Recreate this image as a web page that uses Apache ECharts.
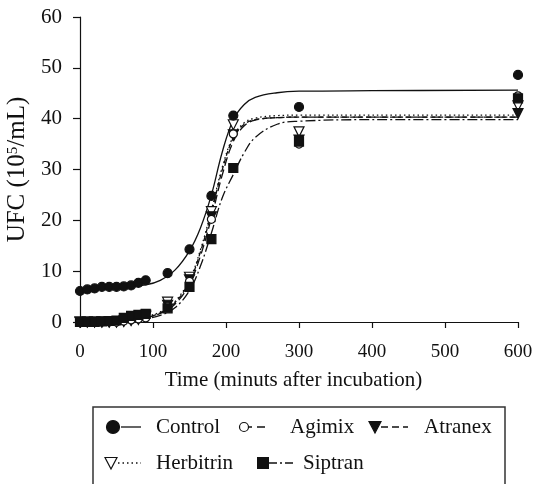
<!DOCTYPE html>
<html><head><meta charset="utf-8">
<script src="https://cdn.jsdelivr.net/npm/echarts@6/dist/echarts.min.js"></script>
<style>html,body{margin:0;padding:0;background:#fff}#c{width:533px;height:484px}</style>
</head><body><div id="c"></div>
<script>
// observed time points (minutes)
const obsTimes = [0,10,20,30,40,50,60,70,80,90,120,150,180,210,300,600];
const control   = [6.1,6.4,6.6,6.9,6.9,6.9,7.0,7.2,7.7,8.2,9.6,14.3,24.8,40.6,42.3,48.6];
const agimix    = [0,0,0,0,0,0,0.2,0.4,0.6,0.8,3.0,8.0,20.2,37.0,35.0,44.5];
const atranex   = [0,0,0,0,0,0,0.1,0.3,0.5,1.0,3.3,8.3,20.7,36.8,35.8,41.0];
const herbitrin = [0,0,0,0,0,0,0.2,0.4,0.8,1.3,3.9,8.8,21.7,38.8,37.4,42.5];
const siptran   = [0,0,0,0.1,0.2,0.3,0.8,1.2,1.4,1.6,2.7,6.9,16.3,30.3,35.5,44.0];
// fitted curves
const curveTimes   = [0,30,60,90,110,130,150,165,180,195,210,225,240,270,300,400,600];
const controlFit   = [6.5,6.7,6.9,7.3,8.2,10.2,14.0,18.5,25.0,33.5,39.8,42.8,44.2,45.1,45.4,45.5,45.6];
const agimixFit    = [0.1,0.2,0.4,0.9,1.7,3.5,7.5,13.0,20.5,29.0,35.5,38.6,39.7,40.2,40.3,40.3,40.3];
const atranexFit   = [0.1,0.2,0.4,1.0,1.8,3.8,8.0,13.8,21.5,30.0,36.2,38.9,39.8,40.2,40.3,40.3,40.3];
const herbitrinFit = [0.1,0.2,0.5,1.1,2.0,4.0,8.3,14.2,22.0,30.5,36.5,39.2,40.1,40.6,40.7,40.7,40.7];
const siptranFit   = [0.0,0.1,0.3,0.7,1.3,2.8,6.2,11.0,17.5,24.5,29.0,33.3,36.3,38.9,39.5,39.8,39.8];
const xTicks = [0,100,200,300,400,500,600];
const yTicks = [0,10,20,30,40,50,60];
const names = ['Control','Agimix','Atranex','Herbitrin','Siptran'];

const FONT = 'Liberation Serif';
const pair = (t, v) => t.map((x, i) => [x, v[i]]);

const markerStyles = [
  {symbol:'circle', size:9, rot:0, color:'#111', border:'#111'},
  {symbol:'circle', size:8, rot:0, color:'#fff', border:'#111'},
  {symbol:'triangle', size:10, rot:180, color:'#111', border:'#111'},
  {symbol:'triangle', size:10, rot:180, color:'#fff', border:'#111'},
  {symbol:'rect', size:9, rot:0, color:'#111', border:'#111'}
];
const lineDashes = ['solid', [9,4], [5,3], [1.5,3], [10,3,2,3]];
const obs = [control, agimix, atranex, herbitrin, siptran];
const fits = [controlFit, agimixFit, atranexFit, herbitrinFit, siptranFit];

const series = [];
names.forEach((n, i) => {
  series.push({
    name: n + ' fit', type: 'line', smooth: 0.4, showSymbol: false, symbol: 'none',
    data: pair(curveTimes, fits[i]), z: 2,
    lineStyle: {color: '#111', width: 1.3, type: lineDashes[i]}
  });
});
[3,2,1,4,0].forEach(i => {
  const m = markerStyles[i];
  series.push({
    name: names[i], type: 'scatter', data: pair(obsTimes, obs[i]), z: 5,
    symbol: m.symbol, symbolSize: m.size, symbolRotate: m.rot,
    itemStyle: {color: m.color, borderColor: m.border, borderWidth: 1.2, opacity: 1}
  });
});

// legend graphics
const legDash = [null, [3,5,8,100], [7,4], [1.5,3], [8,3,2,3]];
const leg = [
  {x:113, y:427, tx:156, l1:121, l2:141},
  {x:244, y:427, tx:290, l1:249, l2:266},
  {x:375, y:427, tx:424, l1:381, l2:408},
  {x:111, y:463, tx:156, l1:118, l2:141},
  {x:263, y:463, tx:303, l1:269, l2:294}
];
const graphic = [{
  type:'rect', shape:{x:93, y:407, width:412, height:90},
  style:{fill:'none', stroke:'#333', lineWidth:1.5}, z:10
}];
names.forEach((n, i) => {
  const p = leg[i], m = markerStyles[i];
  graphic.push({type:'line', shape:{x1:p.l1, y1:p.y, x2:p.l2, y2:p.y},
    style:{stroke:'#111', lineWidth:1.3, lineDash: legDash[i]}, z:10});
  let shape;
  if (m.symbol === 'circle') {
    shape = {type:'circle', shape:{cx:p.x, cy:p.y, r: i===0?6.5:4.5}, style:{fill:m.color, stroke:'#111', lineWidth:1.2}, z:11};
  } else if (m.symbol === 'rect') {
    shape = {type:'rect', shape:{x:p.x-6, y:p.y-6, width:12, height:12}, style:{fill:'#111'}, z:11};
  } else {
    shape = {type:'polygon', shape:{points:[[p.x-6,p.y-5.5],[p.x+6,p.y-5.5],[p.x,p.y+6]]}, style:{fill:m.color, stroke:'#111', lineWidth:1.2}, z:11};
  }
  graphic.push(shape);
  graphic.push({type:'text', x:p.tx, y:p.y, style:{text:n, font:'21px "Liberation Serif"', fill:'#111', textVerticalAlign:'middle', verticalAlign:'middle'}, z:11});
});

const chart = echarts.init(document.getElementById('c'), null, {renderer:'canvas'});
chart.setOption({
  animation: false,
  backgroundColor: '#fff',
  grid: {left: 80, right: 15, top: 17, bottom: 162, containLabel: false, outerBoundsMode: 'none'},
  xAxis: {
    type:'value', min: xTicks[0], max: xTicks[xTicks.length-1], interval: 100,
    name: 'Time (minuts after incubation)', nameLocation:'middle', nameGap: 48,
    nameTextStyle: {fontFamily: FONT, fontSize: 21, color:'#111', padding:[0,11,0,0]},
    axisLine: {show:true, onZero:false, lineStyle:{color:'#111', width:1.2}},
    axisTick: {show:true, inside:false, length:6, lineStyle:{color:'#111', width:1.2}},
    axisLabel: {fontFamily: FONT, fontSize: 19, color:'#111', margin: 21},
    splitLine: {show:false}
  },
  yAxis: {
    type:'value', min: yTicks[0], max: yTicks[yTicks.length-1], interval: 10,
    name: 'UFC (10{sup|5}/mL)', nameLocation:'middle', nameGap: 46, nameRotate: 90,
    nameTextStyle: {fontFamily: FONT, fontSize: 25, color:'#111',
      rich: {sup: {fontFamily: FONT, fontSize: 15, color:'#111', verticalAlign:'top', padding:[0,0,8,0]}}},
    axisLine: {show:true, lineStyle:{color:'#111', width:1.2}},
    axisTick: {show:true, inside:false, length:7, lineStyle:{color:'#111', width:1.2}},
    axisLabel: {fontFamily: FONT, fontSize: 21, color:'#111', margin: 18},
    splitLine: {show:false}
  },
  series: series,
  graphic: graphic
});
</script></body></html>
